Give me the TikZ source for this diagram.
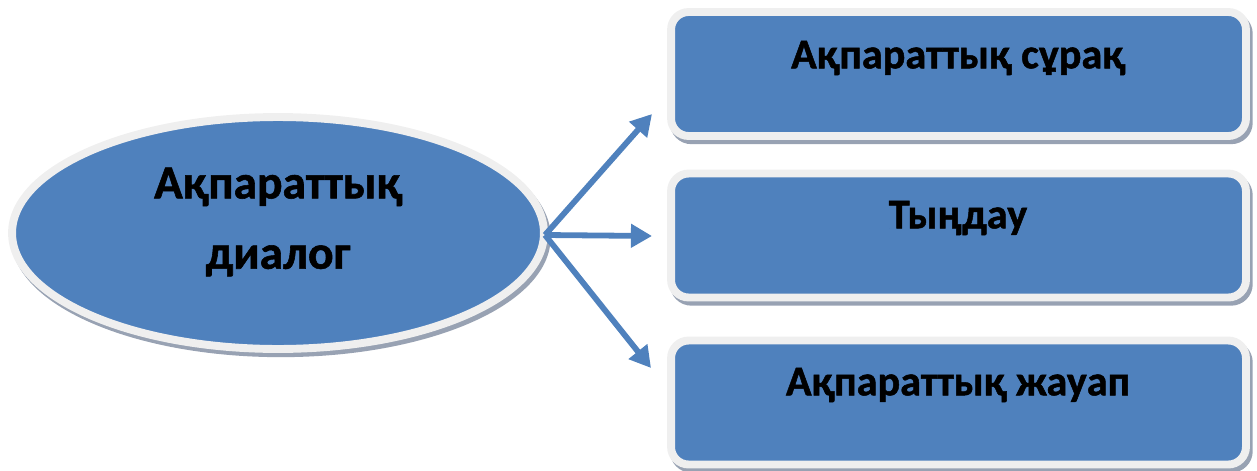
\documentclass[tikz,border=0pt]{standalone}
\usepackage{fontspec}
\setmainfont{Carlito}[BoldFeatures={FakeBold=1.2}]
\usetikzlibrary{arrows.meta,shapes.geometric}
\definecolor{ofblue}{HTML}{4F81BD}
\definecolor{rim}{HTML}{EFEFEF}
\definecolor{shd}{HTML}{98A2B3}
\begin{document}
\begin{tikzpicture}[x=0.02cm,y=-0.02cm,
  rimshape/.style={fill=ofblue, draw=rim, line width=4.5pt,
    preaction={draw=shd, fill=shd, line width=4.5pt, transform canvas={xshift=1.6pt,yshift=-2.4pt}}},
  oval/.style={rimshape, ellipse, minimum width=10.64cm, minimum height=4.64cm, inner sep=0pt},
  boxnode/.style={rimshape, rectangle, rounded corners=10pt, minimum width=11.5cm, minimum height=2.48cm, inner sep=0pt},
  lbl/.style={font=\bfseries\fontsize{24}{30}\selectfont, text=black, align=center, inner sep=0pt},
  biglbl/.style={lbl, font=\bfseries\fontsize{27}{40}\selectfont},
  conn/.style={draw=ofblue, line width=3.3pt, -{Triangle[length=12pt,width=13pt]}}
]
\useasboundingbox (0,0) rectangle (1257,470);
\node[oval] (e) at (278,233) {};
\node[biglbl] (et) at (278,222) {Ақпараттық\\диалог};
\node[boxnode] (b1) at (958.5,74) {};
\node[boxnode] (b2) at (958.5,235.5) {};
\node[boxnode] (b3) at (958.5,402.5) {};
\node[lbl] (t1) at (958,58) {Ақпараттық сұрақ};
\node[lbl] (t2) at (958,218) {Тыңдау};
\node[lbl] (t3) at (958,385) {Ақпараттық жауап};
\coordinate (o) at (545,235);
\coordinate (p1) at (652,114);
\coordinate (p2) at (652,236);
\coordinate (p3) at (651,368);
\draw[conn] (o) -- (p1);
\draw[conn] (o) -- (p2);
\draw[conn] (o) -- (p3);
\end{tikzpicture}
\end{document}
